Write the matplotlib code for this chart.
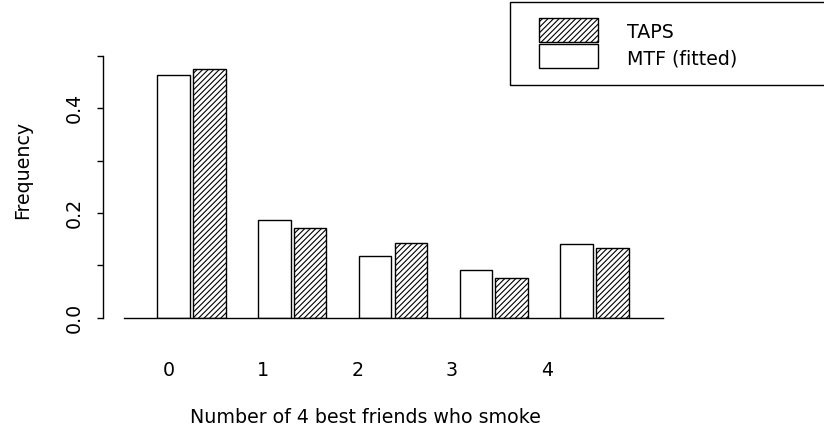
import matplotlib
matplotlib.use("Agg")
import matplotlib.pyplot as plt
from matplotlib.patches import Patch, Rectangle
from matplotlib.legend_handler import HandlerPatch

# Distribution of the number of a respondent's 4 best friends who smoke
categories = ["0", "1", "2", "3", "4"]
mtf_fitted = [0.464, 0.187, 0.117, 0.092, 0.140]
taps = [0.475, 0.171, 0.143, 0.076, 0.133]
y_ticks = [0.0, 0.1, 0.2, 0.3, 0.4, 0.5]
y_tick_labels = ["0.0", "", "0.2", "", "0.4", ""]

plt.rcParams["font.family"] = ["DejaVu Sans"]
plt.rcParams["hatch.linewidth"] = 0.8
FS = 13.7
HATCH = "//////"

W, H, DPI = 824, 434, 100
PT = 72 / DPI  # points per pixel
fig = plt.figure(figsize=(W / DPI, H / DPI), dpi=DPI)

# plotting region in pixel terms (top-left origin)
left_px, right_px = 124.3, 662.7
base_px, top_px = 317.7, 55.95
ax = fig.add_axes([left_px / W, (H - base_px) / H,
                   (right_px - left_px) / W, (base_px - top_px) / H])

# bar layout: width 1, small gap within a pair, one bar-width between pairs
group_step, first_left, inner_gap = 3.1, 1.0, 0.1
mtf_left = [first_left + group_step * i for i in range(len(categories))]
taps_left = [x + 1 + inner_gap for x in mtf_left]

ax.bar(mtf_left, mtf_fitted, width=1, align="edge",
       facecolor="white", edgecolor="black", linewidth=1.0)
ax.bar(taps_left, taps, width=1, align="edge",
       facecolor="white", edgecolor="black", linewidth=1.0, hatch=HATCH)

ax.set_xlim(-0.015, 16.55)
ax.set_ylim(0, 0.5)

for s in ("top", "right"):
    ax.spines[s].set_visible(False)
ax.spines["bottom"].set_linewidth(1.0)
ax.spines["left"].set_linewidth(1.0)
ax.spines["left"].set_position(("outward", 21 * PT))
ax.spines["left"].set_bounds(0, 0.5)

ax.set_yticks(y_ticks, y_tick_labels, rotation=90, rotation_mode="anchor",
              ha="center", va="baseline", fontsize=FS)
ax.tick_params(axis="y", length=6 * PT, width=1.0, pad=17.7 * PT)

label_pos = [1.34 + 2.91 * i for i in range(len(categories))]
ax.set_xticks(label_pos, categories, va="baseline", fontsize=FS)
ax.tick_params(axis="x", length=0, pad=(376.5 - base_px) * PT)

fig.text(365.8 / W, 1 - 422.7 / H, "Number of 4 best friends who smoke",
         ha="center", va="baseline", fontsize=FS)
fig.text(28 / W, 1 - 170 / H, "Frequency", rotation=90,
         rotation_mode="anchor", ha="center", va="baseline", fontsize=FS)

# legend frame (runs off the right edge) and its entries
fig.add_artist(Rectangle((510 / W, 1 - 85 / H), 330 / W, 83 / H,
                         transform=fig.transFigure, facecolor="none",
                         edgecolor="black", linewidth=1.0))

drop_px = -1.75  # keys sit a little higher than the label baselines suggest
key_drop = drop_px * PT


def shifted_key(legend, orig_handle, xdescent, ydescent, width, height,
                fontsize):
    return Rectangle((-xdescent, -ydescent - key_drop), width, height)


em = FS / 72 * DPI
key_h = (24 / em - 0.245) / 0.65
handles = [Patch(facecolor="white", edgecolor="black", hatch=HATCH,
                 linewidth=1.0, label="TAPS"),
           Patch(facecolor="white", edgecolor="black", linewidth=1.0,
                 label="MTF (fitted)")]
fig.legend(handles=handles, loc="upper left",
           bbox_to_anchor=(539.3 / W, 1 - (18.3 - drop_px) / H),
           frameon=False, borderpad=0, borderaxespad=0, fontsize=FS,
           handlelength=58.4 / em, handleheight=key_h,
           labelspacing=2 / em, handletextpad=29 / em,
           handler_map={Patch: HandlerPatch(patch_func=shifted_key)})

fig.savefig("out.png", dpi=DPI)
